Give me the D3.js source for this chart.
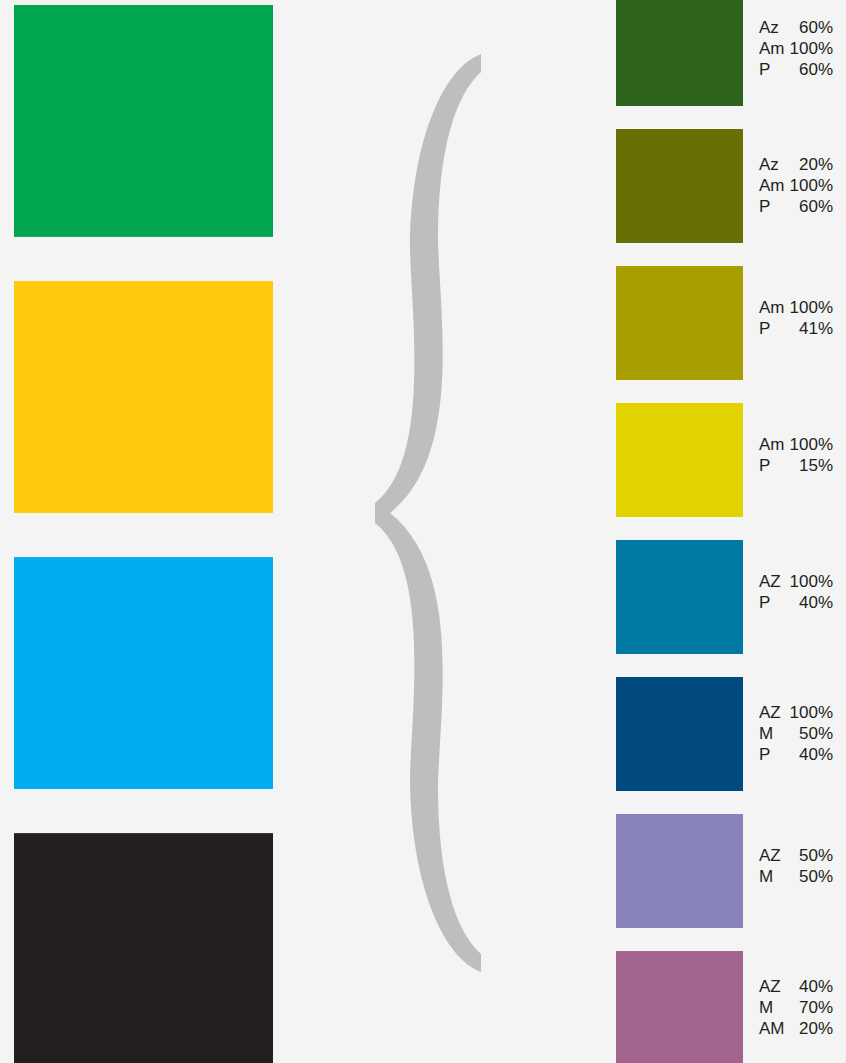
<!DOCTYPE html>
<html lang="es">
<head>
  <meta charset="UTF-8">
  <title>Mezclas de color</title>
  <script src="https://d3js.org/d3.v7.min.js"></script>
  <style>
    body {
      margin: 0;
      background: #f3f4f3;
    }
    svg { display: block; }
    .label text {
      font-family: "Liberation Sans", Arial, sans-serif;
      font-size: 17px;
      fill: #231f20;
    }
  </style>
</head>
<body>
<svg id="chart" width="846" height="1063"></svg>

<script>
  // colores base (columna izquierda)
  const baseColors = ["#00a54f", "#ffc80b", "#00aeef", "#231f20"];

  // mezclas (columna derecha)
  const mixColors = ["#2d631d", "#677004", "#a99e00", "#e1d300",
                     "#0079a3", "#004a7f", "#8882bc", "#a2648f"];

  const mixLabels = [
    [["Az", "60%"], ["Am", "100%"], ["P", "60%"]],
    [["Az", "20%"], ["Am", "100%"], ["P", "60%"]],
    [["Am", "100%"], ["P", "41%"]],
    [["Am", "100%"], ["P", "15%"]],
    [["AZ", "100%"], ["P", "40%"]],
    [["AZ", "100%"], ["M", "50%"], ["P", "40%"]],
    [["AZ", "50%"], ["M", "50%"]],
    [["AZ", "40%"], ["M", "70%"], ["AM", "20%"]]
  ];

  const svg = d3.select("#chart");
  const lineH = 21;

  // columna izquierda
  const yBase = d3.scaleBand()
    .domain(d3.range(baseColors.length))
    .range([5, 1065])
    .paddingInner(0.16);

  svg.append("g")
    .selectAll("rect")
    .data(baseColors)
    .join("rect")
    .attr("x", 14)
    .attr("y", (d, i) => yBase(i))
    .attr("width", 259)
    .attr("height", yBase.bandwidth())
    .attr("fill", d => d);

  // columna derecha
  const yMix = d3.scaleBand()
    .domain(d3.range(mixColors.length))
    .range([-8, 1065])
    .paddingInner(0.168);

  svg.append("g")
    .selectAll("rect")
    .data(mixColors)
    .join("rect")
    .attr("x", 616)
    .attr("y", (d, i) => yMix(i))
    .attr("width", 127)
    .attr("height", yMix.bandwidth())
    .attr("fill", d => d);

  // los bloques de dos lineas van un poco mas arriba
  const label = svg.append("g")
    .attr("class", "label")
    .selectAll("g")
    .data(mixLabels)
    .join("g")
    .attr("transform", (d, i) =>
      `translate(0,${yMix(i) + yMix.bandwidth() / 2 + (d.length === 2 ? -5.5 : -1)})`);

  label.selectAll("g")
    .data(d => d.map((row, j) => ({row, j, n: d.length})))
    .join("g")
    .attr("transform", d => `translate(0,${(d.j - (d.n - 1) / 2) * lineH})`)
    .call(g => g.append("text")
      .attr("x", 759)
      .attr("dy", "0.35em")
      .text(d => d.row[0]))
    .call(g => g.append("text")
      .attr("x", 833)
      .attr("dy", "0.35em")
      .attr("text-anchor", "end")
      .text(d => d.row[1]));

  // llave
  const bx = d3.scaleLinear().domain([0, 1]).range([375, 481]);
  const by = d3.scaleLinear().domain([0, 1]).range([54, 972]);
  const P = (u, v) => [bx(u), by(v)];
  const M = (u, v) => [bx(u), by(1 - v)];

  const p = d3.path();
  p.moveTo(...P(1, 0));
  p.bezierCurveTo(...P(0.613, 0.017), ...P(0.33, 0.105), ...P(0.33, 0.2135));
  p.bezierCurveTo(...P(0.349, 0.29), ...P(0.519, 0.442), ...P(0, 0.489));
  p.lineTo(...M(0, 0.489));
  p.bezierCurveTo(...M(0.519, 0.442), ...M(0.349, 0.29), ...M(0.33, 0.2135));
  p.bezierCurveTo(...M(0.33, 0.105), ...M(0.613, 0.017), ...M(1, 0));
  p.lineTo(...M(1, 0.0196));
  p.bezierCurveTo(...M(0.755, 0.045), ...M(0.594, 0.105), ...M(0.594, 0.2026));
  p.bezierCurveTo(...M(0.613, 0.29), ...M(0.821, 0.437), ...M(0.142, 0.5));
  p.bezierCurveTo(...P(0.821, 0.437), ...P(0.613, 0.29), ...P(0.594, 0.2026));
  p.bezierCurveTo(...P(0.594, 0.105), ...P(0.755, 0.045), ...P(1, 0.0196));
  p.closePath();

  svg.append("path")
    .attr("d", p.toString())
    .attr("fill", "#bcbec0");
</script>
</body>
</html>
